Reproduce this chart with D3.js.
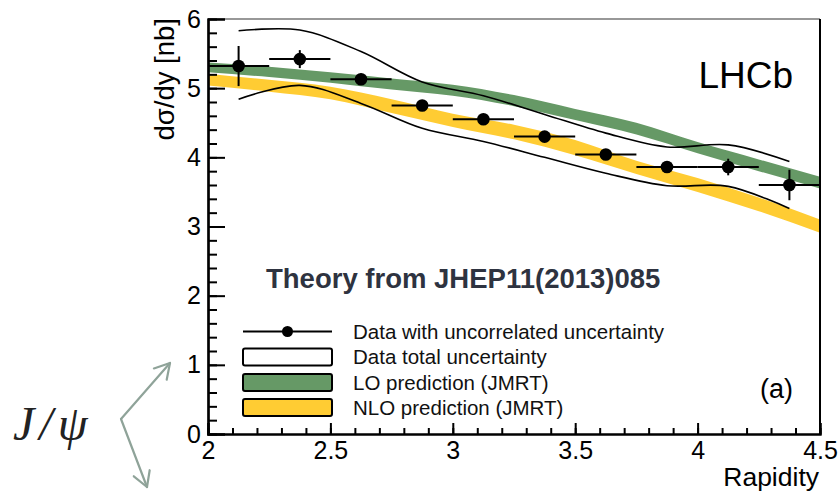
<!DOCTYPE html>
<html>
<head>
<meta charset="utf-8">
<script src="https://cdn.jsdelivr.net/npm/d3@7"></script>
<style>
  html, body { margin: 0; padding: 0; background: #fff; }
  svg { display: block; font-family: "Liberation Sans", Arial, Helvetica, sans-serif; }
</style>
</head>
<body>
<svg id="chart" width="840" height="491"></svg>
<script>
// J/psi differential cross-section vs rapidity (LHCb) with JMRT theory bands

// Measured points: bin centres, values and uncorrelated uncertainties
const rapidityBins = [2.125, 2.375, 2.625, 2.875, 3.125, 3.375, 3.625, 3.875, 4.125, 4.375];
const binHalfWidth = 0.125;
const crossSection = [5.32, 5.42, 5.13, 4.75, 4.55, 4.30, 4.04, 3.86, 3.86, 3.60];
const uncorrErr    = [0.29, 0.13, 0.08, 0.05, 0.05, 0.05, 0.05, 0.05, 0.12, 0.22];

// Total uncertainty envelope (upper / lower edge at each bin centre)
const totalUpper = [5.83, 5.84, 5.53, 5.09, 4.89, 4.62, 4.35, 4.15, 4.18, 3.94];
const totalLower = [4.84, 5.04, 4.78, 4.42, 4.23, 4.00, 3.77, 3.59, 3.58, 3.26];

// Theory predictions (band edges)
const theoryRapidity = [2.0, 2.25, 2.5, 2.75, 3.0, 3.25, 3.5, 3.75, 4.0, 4.25, 4.5];
const loHigh  = [5.37, 5.31, 5.23, 5.14, 5.05, 4.90, 4.70, 4.50, 4.22, 3.97, 3.72];
const loLow   = [5.23, 5.16, 5.08, 4.98, 4.89, 4.74, 4.54, 4.33, 4.06, 3.80, 3.55];
const nloHigh = [5.21, 5.12, 5.02, 4.84, 4.63, 4.47, 4.25, 3.95, 3.70, 3.42, 3.10];
const nloLow  = [5.04, 4.95, 4.84, 4.64, 4.44, 4.26, 4.03, 3.76, 3.50, 3.22, 2.91];

// Axis ticks
const xMajorTicks = [2, 2.5, 3, 3.5, 4, 4.5];
const xMinorTicks = d3.range(21, 45).map(d => d / 10);
const yMajorTicks = [0, 1, 2, 3, 4, 5, 6];
const yMinorTicks = d3.range(1, 30).map(d => d / 5);

const legendLabels = [
  "Data with uncorrelated uncertainty",
  "Data total uncertainty",
  "LO prediction (JMRT)",
  "NLO prediction (JMRT)"
];

const colLO = "#669966";
const colNLO = "#ffcc33";

const svg = d3.select("#chart");
const x = d3.scaleLinear().domain([2, 4.5]).range([208, 820]);
const y = d3.scaleLinear().domain([0, 6]).range([434, 19]);

// Theory bands
function band(hi, lo) {
  return d3.area()
    .x((d, i) => x(theoryRapidity[i]))
    .y0((d, i) => y(lo[i]))
    .y1((d, i) => y(hi[i]))
    .curve(d3.curveMonotoneX)(theoryRapidity);
}
svg.append("path").attr("d", band(loHigh, loLow)).attr("fill", colLO);
svg.append("path").attr("d", band(nloHigh, nloLow)).attr("fill", colNLO);

// Total-uncertainty envelope lines
const envLine = arr => d3.line()
  .x((d, i) => x(rapidityBins[i]))
  .y((d, i) => y(arr[i]))
  .curve(d3.curveCatmullRom.alpha(0.5))(rapidityBins);
[totalUpper, totalLower].forEach(arr => {
  svg.append("path").attr("d", envLine(arr))
    .attr("fill", "none").attr("stroke", "#000").attr("stroke-width", 1.6);
});

// Data points with error bars
const pts = svg.append("g");
rapidityBins.forEach((r, i) => {
  pts.append("line")
    .attr("x1", x(r - binHalfWidth)).attr("x2", x(r + binHalfWidth))
    .attr("y1", y(crossSection[i])).attr("y2", y(crossSection[i]))
    .attr("stroke", "#000").attr("stroke-width", 2);
  pts.append("line")
    .attr("x1", x(r)).attr("x2", x(r))
    .attr("y1", y(crossSection[i] - uncorrErr[i])).attr("y2", y(crossSection[i] + uncorrErr[i]))
    .attr("stroke", "#000").attr("stroke-width", 2);
  pts.append("circle")
    .attr("cx", x(r)).attr("cy", y(crossSection[i])).attr("r", 6.3).attr("fill", "#000");
});

// Frame: thin top/right, heavier axes
svg.append("line").attr("x1", x(2)).attr("x2", x(4.5)).attr("y1", y(6)).attr("y2", y(6))
  .attr("stroke", "#333").attr("stroke-width", 1.2);
svg.append("line").attr("x1", x(4.5)).attr("x2", x(4.5)).attr("y1", y(6)).attr("y2", y(0))
  .attr("stroke", "#000").attr("stroke-width", 2);

// Axes with inward ticks
const yMinorAxis = d3.axisLeft(y).tickValues(yMinorTicks).tickSize(-9).tickFormat("");
const yMajorAxis = d3.axisLeft(y).tickValues(yMajorTicks).tickSize(-17).tickPadding(7).tickFormat(d3.format("d"));
const xMinorAxis = d3.axisBottom(x).tickValues(xMinorTicks).tickSize(-6).tickFormat("");
const xMajorAxis = d3.axisBottom(x).tickValues(xMajorTicks).tickSize(-11).tickPadding(7).tickFormat(d => String(d));

function styleAxis(g) {
  g.selectAll("line").attr("stroke", "#000").attr("stroke-width", 2);
  g.select(".domain").attr("stroke", "#000").attr("stroke-width", 2.2);
  g.selectAll("text").attr("fill", "#000").attr("font-size", 25)
    .attr("font-family", "'Liberation Sans', Arial, sans-serif");
}
svg.append("g").attr("transform", `translate(${x(2)},0)`).call(yMinorAxis).call(styleAxis);
svg.append("g").attr("transform", `translate(${x(2)},0)`).call(yMajorAxis).call(styleAxis);
svg.append("g").attr("transform", `translate(0,${y(0)})`).call(xMinorAxis).call(styleAxis);
svg.append("g").attr("transform", `translate(0,${y(0)})`).call(xMajorAxis).call(styleAxis);

// Axis titles
svg.append("text")
  .attr("transform", `translate(174,18) rotate(-90)`)
  .attr("text-anchor", "end")
  .attr("font-size", 27.5)
  .text("dσ/dy [nb]");
svg.append("text")
  .attr("x", x(4.5) - 1).attr("y", 486)
  .attr("text-anchor", "end")
  .attr("font-size", 26.5)
  .text("Rapidity");

// Labels inside the frame
svg.append("text").attr("x", 793).attr("y", 88).attr("text-anchor", "end")
  .attr("font-size", 37).text("LHCb");
svg.append("text").attr("x", 793).attr("y", 398).attr("text-anchor", "end")
  .attr("font-size", 27).text("(a)");
svg.append("text").attr("x", 266).attr("y", 288)
  .attr("font-size", 27.5).attr("font-weight", "bold").attr("fill", "#2e3340")
  .text("Theory from JHEP11(2013)085");

// Legend
const lg = svg.append("g");
const rowY = [331.5, 357, 382.5, 407.5];
const symX0 = 243, symX1 = 332, textX = 353;
lg.append("line").attr("x1", symX0).attr("x2", symX1).attr("y1", rowY[0]).attr("y2", rowY[0])
  .attr("stroke", "#000").attr("stroke-width", 2);
lg.append("circle").attr("cx", (symX0 + symX1) / 2).attr("cy", rowY[0]).attr("r", 5.5).attr("fill", "#000");
["#ffffff", colLO, colNLO].forEach((c, k) => {
  lg.append("rect")
    .attr("x", symX0).attr("y", rowY[k + 1] - 8.5)
    .attr("width", symX1 - symX0).attr("height", 17)
    .attr("rx", 2).attr("ry", 2)
    .attr("fill", c).attr("stroke", "#000").attr("stroke-width", 2);
});
legendLabels.forEach((t, k) => {
  lg.append("text").attr("x", textX).attr("y", rowY[k] + 7)
    .attr("font-size", 20.5).attr("fill", "#111").text(t);
});

// J/psi annotation with arrows
svg.append("text").attr("x", 13).attr("y", 440)
  .attr("font-family", "'Liberation Serif', 'DejaVu Serif', serif")
  .attr("font-style", "italic").attr("font-size", 48).attr("fill", "#222")
  .attr("letter-spacing", 5)
  .text("J/ψ");

const arrowCol = "#8fa399";
const origin = [121, 419];
const tips = [[170, 363], [147, 487]];
const ann = svg.append("g").attr("stroke", arrowCol).attr("stroke-width", 2.2)
  .attr("fill", "none").attr("stroke-linecap", "round");
tips.forEach(t => {
  ann.append("line").attr("x1", origin[0]).attr("y1", origin[1]).attr("x2", t[0]).attr("y2", t[1]);
  const ang = Math.atan2(t[1] - origin[1], t[0] - origin[0]);
  const L = 17, spread = Math.PI / 6;
  [ang + Math.PI - spread, ang + Math.PI + spread].forEach(a => {
    ann.append("line").attr("x1", t[0]).attr("y1", t[1])
      .attr("x2", t[0] + L * Math.cos(a)).attr("y2", t[1] + L * Math.sin(a));
  });
});
</script>
</body>
</html>
